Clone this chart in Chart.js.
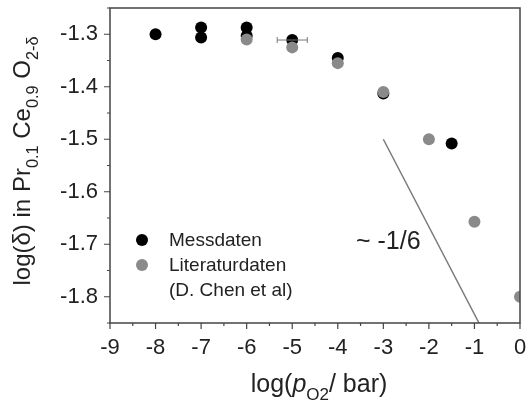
<!DOCTYPE html>
<html>
<head>
<meta charset="utf-8">
<script src="https://cdn.jsdelivr.net/npm/chart.js@4.4.0/dist/chart.umd.min.js"></script>
<style>
  html, body { margin: 0; padding: 0; background: #fff; }
  #wrap { width: 529px; height: 402px; }
</style>
</head>
<body>
<div id="wrap"><canvas id="chart" width="529" height="402"></canvas></div>
<script>
// data
const messX = [-8, -7, -7, -6, -6, -5, -4, -3, -1.5];
const messY = [-1.300, -1.287, -1.306, -1.287, -1.303, -1.311, -1.345, -1.413, -1.508];
const messXErr = [0, 0, 0, 0, 0, 0.33, 0, 0, 0];
const litX = [-6, -5, -4, -3, -2, -1, 0];
const litY = [-1.31, -1.325, -1.355, -1.41, -1.50, -1.657, -1.80];
const slopeX = [-3, -0.9];
const slopeY = [-1.5, -1.85];
const xTicks = [-9, -8, -7, -6, -5, -4, -3, -2, -1, 0];
const yTicks = [-1.8, -1.7, -1.6, -1.5, -1.4, -1.3];

const FONT = "'Liberation Sans', Arial, sans-serif";
const TEXT = "#222";
const GREY = "#8a8a8a";

const toPts = (xs, ys) => xs.map((x, i) => ({ x: x, y: ys[i] }));

// draw runs of text with subscripts, left to right from (x, y baseline)
function drawRuns(ctx, runs, x, y, size) {
  runs.forEach((r) => {
    const s = r.sub ? size * 0.68 : size;
    ctx.font = (r.italic ? "italic " : "") + s + "px " + FONT;
    ctx.fillText(r.t, x, y + (r.sub ? size * 0.33 : 0));
    x += ctx.measureText(r.t).width;
  });
}
function runsWidth(ctx, runs, size) {
  let w = 0;
  runs.forEach((r) => {
    const s = r.sub ? size * 0.68 : size;
    ctx.font = (r.italic ? "italic " : "") + s + "px " + FONT;
    w += ctx.measureText(r.t).width;
  });
  return w;
}

const decor = {
  id: "decor",
  afterDatasetsDraw(chart) {
    const ctx = chart.ctx;
    const xs = chart.scales.x, ys = chart.scales.y;
    const a = chart.chartArea;
    ctx.save();

    // error bar
    ctx.strokeStyle = "#777";
    ctx.lineWidth = 1;
    messX.forEach((x, i) => {
      if (!messXErr[i]) return;
      const py = ys.getPixelForValue(messY[i]);
      const l = xs.getPixelForValue(x - messXErr[i]);
      const r = xs.getPixelForValue(x + messXErr[i]);
      ctx.beginPath();
      ctx.moveTo(l, py); ctx.lineTo(r, py);
      ctx.moveTo(l, py - 3); ctx.lineTo(l, py + 3);
      ctx.moveTo(r, py - 3); ctx.lineTo(r, py + 3);
      ctx.stroke();
    });

    // frame
    ctx.strokeStyle = "#444";
    ctx.lineWidth = 1.5;
    ctx.strokeRect(a.left, a.top, a.right - a.left, a.bottom - a.top);

    // ticks, outward
    ctx.lineWidth = 1.2;
    ctx.beginPath();
    for (let v = -9; v <= 0.001; v += 0.5) {
      const px = xs.getPixelForValue(v);
      const len = Math.abs(v - Math.round(v)) < 0.01 ? 6 : 3;
      ctx.moveTo(px, a.bottom); ctx.lineTo(px, a.bottom + len);
    }
    for (let v = -1.85; v <= -1.249; v += 0.05) {
      const py = ys.getPixelForValue(v);
      const isMajor = Math.abs(v * 10 - Math.round(v * 10)) < 0.01;
      const len = isMajor ? 6 : 3;
      ctx.moveTo(a.left, py); ctx.lineTo(a.left - len, py);
    }
    ctx.stroke();

    // tick labels
    ctx.fillStyle = TEXT;
    ctx.font = "22px " + FONT;
    ctx.textAlign = "center";
    ctx.textBaseline = "middle";
    xTicks.forEach((v) => {
      ctx.fillText(String(v), xs.getPixelForValue(v), a.bottom + 25);
    });
    ctx.textAlign = "right";
    yTicks.forEach((v) => {
      ctx.fillText(v.toFixed(1), a.left - 12, ys.getPixelForValue(v));
    });

    // x title
    ctx.textAlign = "left";
    ctx.textBaseline = "alphabetic";
    const xRuns = [
      { t: "log(" }, { t: "p", italic: true }, { t: "O2", sub: true }, { t: "/ bar)" },
    ];
    const xw = runsWidth(ctx, xRuns, 25);
    drawRuns(ctx, xRuns, 319 - xw / 2, 392, 25);

    // y title
    const yRuns = [
      { t: "log(\u03b4) in Pr" }, { t: "0.1", sub: true }, { t: " Ce" }, { t: "0.9", sub: true },
      { t: " O" }, { t: "2-\u03b4", sub: true },
    ];
    const yw = runsWidth(ctx, yRuns, 24);
    ctx.save();
    ctx.translate(30, 161);
    ctx.rotate(-Math.PI / 2);
    drawRuns(ctx, yRuns, -yw / 2, 0, 24);
    ctx.restore();

    // legend
    ctx.font = "19px " + FONT;
    ctx.textBaseline = "middle";
    ctx.fillStyle = "#000";
    ctx.beginPath(); ctx.arc(142, 240, 6, 0, Math.PI * 2); ctx.fill();
    ctx.fillStyle = GREY;
    ctx.beginPath(); ctx.arc(142, 265, 6, 0, Math.PI * 2); ctx.fill();
    ctx.fillStyle = TEXT;
    ctx.fillText("Messdaten", 169, 241);
    ctx.fillText("Literaturdaten", 169, 266);
    ctx.fillText("(D. Chen et al)", 169, 291);

    // slope annotation
    ctx.font = "25px " + FONT;
    ctx.fillText("~ -1/6", 356, 242);

    ctx.restore();
  },
};

new Chart(document.getElementById("chart"), {
  type: "scatter",
  data: {
    datasets: [
      {
        label: "Literaturdaten",
        data: toPts(litX, litY),
        backgroundColor: GREY,
        borderWidth: 0,
        pointRadius: 6,
        clip: 0,
      },
      {
        label: "Messdaten",
        data: toPts(messX, messY),
        backgroundColor: "#000",
        borderWidth: 0,
        pointRadius: 6,
        clip: 0,
      },
      {
        type: "line",
        label: "slope",
        data: toPts(slopeX, slopeY),
        borderColor: "#7a7a7a",
        borderWidth: 1.5,
        pointRadius: 0,
        fill: false,
        clip: 0,
      },
    ],
  },
  options: {
    responsive: false,
    animation: false,
    layout: { padding: { top: 8, right: 9, left: 0, bottom: 0 } },
    plugins: { legend: { display: false }, tooltip: { enabled: false } },
    scales: {
      x: {
        type: "linear",
        min: -9,
        max: 0,
        grid: { display: false },
        border: { display: false },
        ticks: { display: false },
        afterFit: (s) => { s.height = 79; },
      },
      y: {
        type: "linear",
        min: -1.85,
        max: -1.25,
        grid: { display: false },
        border: { display: false },
        ticks: { display: false },
        afterFit: (s) => { s.width = 110; },
      },
    },
  },
  plugins: [decor],
});
</script>
</body>
</html>
